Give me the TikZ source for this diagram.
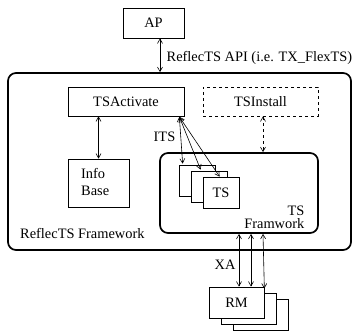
\documentclass[tikz,border=0pt]{standalone}
\usepackage{fontspec}
\setmainfont{Liberation Serif}
\usetikzlibrary{arrows.meta,calc}
\begin{document}
\begin{tikzpicture}[x=1pt,y=-1pt,
  font=\fontsize{14.4}{17}\selectfont,
  box/.style={draw, line width=0.7pt, fill=white, inner sep=0pt},
  frame/.style={draw, line width=1.7pt, rounded corners=8pt, inner sep=0pt},
  biarrow/.style={{Straight Barb[length=4.5pt,width=5pt]}-{Straight Barb[length=4.5pt,width=5pt]}, line width=0.6pt},
  lbl/.style={inner sep=0pt}]
\useasboundingbox (0,0) rectangle (353,336);
% outer framework
\node[frame, minimum width=343pt, minimum height=177pt] (fw) at (179.5,161.5) {};
\node[lbl, anchor=base west] (fwlbl) at (20,239) {ReflecTS Framework};
% AP
\node[box, minimum width=61pt, minimum height=30pt] (ap) at (153.5,23) {AP};
% TSActivate / TSInstall
\node[box, minimum width=116pt, minimum height=29pt] (tsa) at (126,101.5) {TSActivate};
\node[box, dashed, minimum width=115pt, minimum height=29pt] (tsi) at (260.5,101.5) {TSInstall};
% Info Base
\node[box, minimum width=61pt, minimum height=48pt] (info) at (98.5,183) {};
\node[lbl, align=left, anchor=west] (infolbl) at (81,182) {Info\\Base};
% TS framework
\node[frame, minimum width=158pt, minimum height=80pt] (tsf) at (239,193) {};
\node[lbl, align=right, anchor=east, font=\fontsize{14.4}{13}\selectfont] (tsflbl) at (304.5,217) {TS\\Framwork};
% TS boxes
\node[box, minimum width=36pt, minimum height=31pt] (ts1) at (197,180.5) {};
\node[box, minimum width=36pt, minimum height=31pt] (ts2) at (209,186.5) {};
\node[box, minimum width=36pt, minimum height=31pt] (ts3) at (221,192.5) {TS};
% RM boxes
\node[box, minimum width=55pt, minimum height=31pt] (rm3) at (260.5,314.5) {};
\node[box, minimum width=55pt, minimum height=31pt] (rm2) at (248.5,308.5) {};
\node[box, minimum width=55pt, minimum height=31pt] (rm1) at (236.5,302.5) {RM};
% AP <-> framework
\coordinate (apb) at ($(ap.south)+(6.5,0)$);
\draw[biarrow] (apb) -- (apb |- fw.north);
\node[lbl, anchor=west] (api) at (166.5,58) {ReflecTS API (i.e. TX\_FlexTS)};
% TSActivate <-> Info Base
\draw[biarrow] (info.north |- tsa.south) -- (info.north);
% TSInstall <-> TS framework (dashed)
\coordinate (tsib) at ($(tsi.south)+(2.5,0)$);
\draw[biarrow, dashed] (tsib) -- (tsib |- tsf.north);
% ITS arrows
\coordinate (its) at ($(tsa.south east)+(-5,0.5)$);
\draw[biarrow] (its) -- ($(ts1.north west)+(4,-1)$);
\draw[biarrow] (its) -- ($(ts2.north west)+(10,-1)$);
\draw[biarrow] (its) -- ($(ts3.north west)+(17,0)$);
\node[lbl] (itslbl) at (164.5,137) {ITS};
% XA arrows
\draw[biarrow] (239,0 |- tsf.south) -- (239,0 |- rm1.north);
\draw[biarrow] (251,0 |- tsf.south) -- (251,0 |- rm1.north);
\draw[biarrow] (263,0 |- tsf.south) -- ($(rm1.north east)+(0,2)$);
\node[lbl] (xalbl) at (225,265) {XA};
\end{tikzpicture}
\end{document}
